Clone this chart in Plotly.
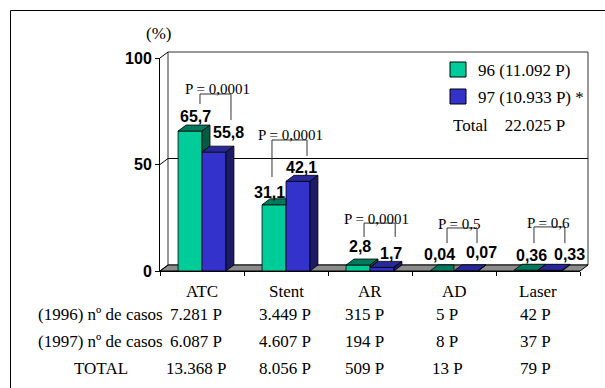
import plotly.graph_objects as go

# ---- data -------------------------------------------------------------
categories = ["ATC", "Stent", "AR", "AD", "Laser"]
pct_1996 = [65.7, 31.1, 2.8, 0.04, 0.36]
pct_1997 = [55.8, 42.1, 1.7, 0.07, 0.33]
casos_1996 = ["7.281 P", "3.449 P", "315 P", "5 P", "42 P"]
casos_1997 = ["6.087 P", "4.607 P", "194 P", "8 P", "37 P"]
casos_total = ["13.368 P", "8.056 P", "509 P", "13 P", "79 P"]
row_labels = ["(1996) nº de casos", "(1997) nº de casos", "TOTAL"]
p_values = ["P = 0,0001", "P = 0,0001", "P = 0,0001", "P = 0,5", "P = 0,6"]
series_names = ["96 (11.092 P)", "97 (10.933 P) *"]
total_text = "Total    22.025 P"
y_ticks = [0, 50, 100]

# ---- geometry ---------------------------------------------------------
W, H = 605, 388
L, R, T, B = 160, 25, 58, 117
PW, PH = W - L - R, H - T - B
X_RANGE = [-0.5, 4.5]
Y_RANGE = [0, 100]
DEPTH_PX = (8, 6)          # offset of the back plane (3-D look)
BARGAP = 0.43
BAR_W = (1 - BARGAP) / 2

DX = DEPTH_PX[0] / PW * (X_RANGE[1] - X_RANGE[0])
DY = DEPTH_PX[1] / PH * (Y_RANGE[1] - Y_RANGE[0])


def x2px(x):
    return L + (x - X_RANGE[0]) / (X_RANGE[1] - X_RANGE[0]) * PW


def y2px(y):
    return T + PH - (y - Y_RANGE[0]) / (Y_RANGE[1] - Y_RANGE[0]) * PH


def pp(px, py):
    """pixel -> paper coordinates"""
    return (px - L) / PW, (T + PH - py) / PH


GREEN = ["#00CC99", "#007A5C", "#005C45"]   # front, top, side
BLUE = ["#3333CC", "#28289A", "#1C1C66"]

SERIF = "Liberation Serif, Times New Roman, serif"
SANS = "Liberation Sans, Arial, sans-serif"

fig = go.Figure()

# front faces
x_idx = list(range(len(categories)))
for name, vals, col in [(series_names[0], pct_1996, GREEN), (series_names[1], pct_1997, BLUE)]:
    fig.add_trace(go.Bar(
        x=x_idx, y=vals, name=name, marker=dict(color=col[0], line=dict(color="black", width=0.8)),
        showlegend=False, hoverinfo="skip"))


def poly_trace(polys, color):
    xs, ys = [], []
    for p in polys:
        for (a, b) in p:
            xs.append(a)
            ys.append(b)
        xs.append(p[0][0])
        ys.append(p[0][1])
        xs.append(None)
        ys.append(None)
    return go.Scatter(x=xs, y=ys, mode="lines", fill="toself", fillcolor=color,
                      line=dict(color="black", width=0.8), hoverinfo="skip",
                      showlegend=False)


g_top, g_side, b_top, b_side = [], [], [], []
for i, (g, b) in enumerate(zip(pct_1996, pct_1997)):
    x0, xm, x1 = i - BAR_W, i, i + BAR_W
    if g >= b:
        g_top.append([(x0, g), (xm, g), (xm + DX, g + DY), (x0 + DX, g + DY)])
        g_side.append([(xm, b), (xm, g), (xm + DX, g + DY), (xm + DX, b + DY)])
    else:
        g_top.append([(x0, g), (xm, g), (xm, g + DY), (x0 + DX, g + DY)])
    b_top.append([(xm, b), (x1, b), (x1 + DX, b + DY), (xm + DX, b + DY)])
    b_side.append([(x1, 0), (x1, b), (x1 + DX, b + DY), (x1 + DX, DY)])

fig.add_trace(poly_trace(g_top, GREEN[1]))
fig.add_trace(poly_trace(g_side, GREEN[2]))
fig.add_trace(poly_trace(b_top, BLUE[1]))
fig.add_trace(poly_trace(b_side, BLUE[2]))

shapes = []
annotations = []

# back wall, floor, gridline and depth edges
bx0, by0 = pp(L + DEPTH_PX[0], y2px(0) - DEPTH_PX[1])
bx1, by1 = pp(L + PW + DEPTH_PX[0], y2px(100) - DEPTH_PX[1])
shapes.append(dict(type="rect", xref="paper", yref="paper", x0=bx0, y0=by0, x1=bx1, y1=by1,
                   line=dict(color="#333333", width=1), fillcolor="white", layer="below"))
fx = [x2px(X_RANGE[0]), x2px(X_RANGE[1])]
fy = y2px(0)
f_pts = [pp(fx[0], fy), pp(fx[1], fy), pp(fx[1] + DEPTH_PX[0], fy - DEPTH_PX[1]),
         pp(fx[0] + DEPTH_PX[0], fy - DEPTH_PX[1])]
shapes.append(dict(type="path", xref="paper", yref="paper",
                   path="M " + " L ".join(f"{a},{b}" for a, b in f_pts) + " Z",
                   fillcolor="#8C8C8C", line=dict(color="black", width=1), layer="below"))
for v in y_ticks:
    ya = y2px(v)
    p0 = pp(L, ya)
    p1 = pp(L + DEPTH_PX[0], ya - DEPTH_PX[1])
    shapes.append(dict(type="line", xref="paper", yref="paper", x0=p0[0], y0=p0[1],
                       x1=p1[0], y1=p1[1], line=dict(color="black", width=1)))
    if 0 < v < 100:
        p2 = pp(L + PW + DEPTH_PX[0], ya - DEPTH_PX[1])
        shapes.append(dict(type="line", xref="paper", yref="paper", x0=p1[0], y0=p1[1],
                           x1=p2[0], y1=p2[1], line=dict(color="black", width=1),
                           layer="below"))

# outer frame
fa = pp(10.5, 10.5)
shapes.append(dict(type="line", xref="paper", yref="paper", x0=fa[0], y0=fa[1],
                   x1=pp(W + 2, 0)[0], y1=fa[1], line=dict(color="black", width=1)))
shapes.append(dict(type="line", xref="paper", yref="paper", x0=fa[0], y0=fa[1],
                   x1=fa[0], y1=pp(0, H + 2)[1], line=dict(color="black", width=1)))

# value labels on the bars
def fmt(v):
    return (f"{v:.2f}" if v < 1 else f"{v:.1f}").replace(".", ",")


label_shift = [((1, 9), (11, 14)), ((-9, 6), (0, 8)), ((-2, 13), (5, 8)),
               ((-7, 10), (12, 12)), ((1, 9), (16, 10))]
for i in x_idx:
    for s, vals in enumerate([pct_1996, pct_1997]):
        cx = i - BAR_W / 2 + s * BAR_W + DX / 2
        sx, sy = label_shift[i][s]
        annotations.append(dict(x=cx, y=vals[i] + DY, xref="x", yref="y", text=fmt(vals[i]),
                                showarrow=False, xanchor="center", yanchor="middle",
                                xshift=sx, yshift=sy,
                                font=dict(family=SANS, size=16, color="black", weight="bold")))

# significance brackets
brackets = [(-0.024, 0.345, 83.1, 78.4, 70.9, 0.19, 85.4),
            (-0.167, 0.25, 61.5, 44.1, 54.0, 0.048, 63.8),
            (-0.071, 0.30, 22.5, 16.0, 16.0, 0.083, 24.4),
            (-0.083, 0.274, 20.2, 13.1, 13.1, 0.06, 22.1),
            (-0.048, 0.32, 20.7, 13.1, 13.1, 0.119, 22.6)]
for i, (lx, rx, yt, yl, yr, tx, ty) in enumerate(brackets):
    shapes.append(dict(type="path", xref="x", yref="y",
                       path=f"M {i + lx},{yl} L {i + lx},{yt} L {i + rx},{yt} L {i + rx},{yr}",
                       line=dict(color="#333333", width=1)))
    annotations.append(dict(x=i + tx, y=ty, xref="x", yref="y", text=p_values[i],
                            showarrow=False, xanchor="center", yanchor="middle",
                            font=dict(family=SERIF, size=15, color="black")))


def ann_px(text, px, py, xanchor="center", size=17):
    x, y = pp(px, py)
    annotations.append(dict(x=x, y=y, xref="paper", yref="paper", text=text, showarrow=False,
                            xanchor=xanchor, yanchor="middle",
                            font=dict(family=SERIF, size=size, color="black")))


# legend
for k, col in enumerate([GREEN[0], BLUE[0]]):
    top = 62 + k * 27
    a = pp(450, top)
    b = pp(466, top + 15)
    shapes.append(dict(type="rect", xref="paper", yref="paper", x0=a[0], y0=a[1], x1=b[0],
                       y1=b[1], fillcolor=col, line=dict(color="black", width=1)))
    ann_px(series_names[k], 476, top + 8, "left")
ann_px(total_text, 451, 126, "left")

ann_px("(%)", 158, 33)

# table under the chart
ann_y = [291, 314, 341, 368]
value_shift = [-6, -1, -6, -7, -3]
for i, cat in enumerate(categories):
    cx = x2px(i)
    ann_px(cat, cx, ann_y[0])
    for r, col in enumerate([casos_1996, casos_1997, casos_total]):
        ann_px(col[i], cx + value_shift[i], ann_y[r + 1])
ann_px(row_labels[0], 165, ann_y[1], "right")
ann_px(row_labels[1], 165, ann_y[2], "right")
ann_px(row_labels[2], 101, ann_y[3])

fig.update_layout(
    width=W, height=H, margin=dict(l=L, r=R, t=T, b=B),
    paper_bgcolor="white", plot_bgcolor="white",
    barmode="group", bargap=BARGAP, bargroupgap=0,
    showlegend=False, shapes=shapes, annotations=annotations,
    xaxis=dict(range=X_RANGE, showgrid=False, zeroline=False, showline=True,
               linecolor="black", linewidth=1, ticks="outside", ticklen=4,
               tickcolor="black", tickvals=[i - 0.5 for i in range(len(categories) + 1)],
               showticklabels=False, fixedrange=True),
    yaxis=dict(range=Y_RANGE, showgrid=False, zeroline=False, showline=True,
               linecolor="black", linewidth=1, ticks="outside", ticklen=4,
               tickcolor="black", tickvals=y_ticks,
               tickfont=dict(family=SANS, size=16, color="black", weight="bold"),
               fixedrange=True),
)

fig.write_html("out.html")
